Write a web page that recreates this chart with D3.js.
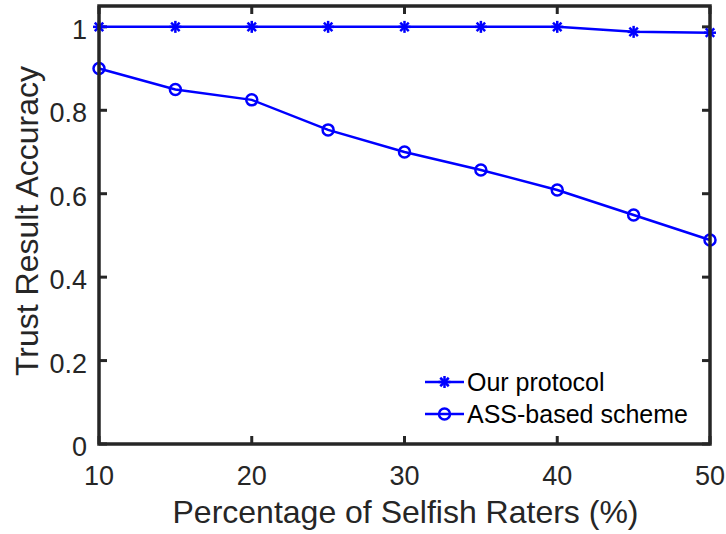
<!DOCTYPE html>
<html lang="en">
<head>
<meta charset="UTF-8">
<title>Trust Result Accuracy</title>
<script src="https://d3js.org/d3.v7.min.js"></script>
<style>
  body { margin: 0; background: #fff; }
  text { font-family: Arial, "Liberation Sans", Helvetica, sans-serif; }
</style>
</head>
<body>
<script>
// data
const raters = [10, 15, 20, 25, 30, 35, 40, 45, 50];
const ourProtocol = [1, 1, 1, 1, 1, 1, 1, 0.988, 0.986];
const assScheme = [0.9, 0.85, 0.825, 0.753, 0.7, 0.657, 0.609, 0.549, 0.489];
const xTicks = [10, 20, 30, 40, 50];
const yTicks = [0, 0.2, 0.4, 0.6, 0.8, 1];
const seriesNames = ["Our protocol", "ASS-based scheme"];

const W = 726, H = 534;
const margin = {left: 99, right: 16, top: 6, bottom: 90};

const svg = d3.select("body").append("svg").attr("width", W).attr("height", H);

const x = d3.scaleLinear().domain([10, 50]).range([margin.left, W - margin.right]);
const y = d3.scaleLinear().domain([0, 1.05]).range([H - margin.bottom, margin.top]);

const axisColor = "#262626";
const blue = "#0000ff";

// ticks (inward, mirrored on all sides)
const tk = 8;
const g = svg.append("g");
xTicks.forEach(t => {
  g.append("line").attr("x1", x(t)).attr("x2", x(t)).attr("y1", y(0)).attr("y2", y(0) - tk)
    .attr("stroke", axisColor).attr("stroke-width", 3);
  g.append("line").attr("x1", x(t)).attr("x2", x(t)).attr("y1", y(1.05)).attr("y2", y(1.05) + tk)
    .attr("stroke", axisColor).attr("stroke-width", 3);
  g.append("text").attr("x", x(t)).attr("y", y(0) + 41).attr("text-anchor", "middle")
    .attr("font-size", 27).attr("fill", axisColor).text(t);
});
yTicks.forEach(t => {
  g.append("line").attr("x1", x(10)).attr("x2", x(10) + tk).attr("y1", y(t)).attr("y2", y(t))
    .attr("stroke", axisColor).attr("stroke-width", 3);
  g.append("line").attr("x1", x(50)).attr("x2", x(50) - tk).attr("y1", y(t)).attr("y2", y(t))
    .attr("stroke", axisColor).attr("stroke-width", 3);
  g.append("text").attr("x", x(10) - 12).attr("y", y(t) + 12).attr("text-anchor", "end")
    .attr("font-size", 27).attr("fill", axisColor).text(d3.format("~g")(t));
});

// lines
const line = d3.line().x((d, i) => x(raters[i])).y(d => y(d));
svg.append("path").datum(ourProtocol).attr("d", line).attr("fill", "none")
  .attr("stroke", blue).attr("stroke-width", 2.5);
svg.append("path").datum(assScheme).attr("d", line).attr("fill", "none")
  .attr("stroke", blue).attr("stroke-width", 2.5);

function star(sel, cx, cy, r) {
  const gg = sel.append("g").attr("transform", `translate(${cx},${cy})`);
  [0, 45, 90, 135].forEach(a => {
    const rad = a * Math.PI / 180;
    gg.append("line").attr("x1", -r * Math.cos(rad)).attr("y1", -r * Math.sin(rad))
      .attr("x2", r * Math.cos(rad)).attr("y2", r * Math.sin(rad))
      .attr("stroke", blue).attr("stroke-width", 2.5);
  });
}

ourProtocol.forEach((v, i) => star(svg, x(raters[i]), y(v), 6));
svg.selectAll("circle.m").data(assScheme).enter().append("circle")
  .attr("cx", (d, i) => x(raters[i])).attr("cy", d => y(d)).attr("r", 5.5)
  .attr("fill", "none").attr("stroke", blue).attr("stroke-width", 2.5);

// box
svg.append("rect").attr("x", x(10)).attr("y", y(1.05)).attr("width", x(50) - x(10))
  .attr("height", y(0) - y(1.05)).attr("fill", "none").attr("stroke", axisColor).attr("stroke-width", 3.5);

// legend
const lg = svg.append("g");
seriesNames.forEach((name, i) => {
  const ly = 382 + i * 32;
  lg.append("line").attr("x1", 425).attr("x2", 464).attr("y1", ly).attr("y2", ly)
    .attr("stroke", blue).attr("stroke-width", 2.5);
  if (i === 0) star(lg, 444.5, ly, 6);
  else lg.append("circle").attr("cx", 444.5).attr("cy", ly).attr("r", 5.5)
    .attr("fill", "none").attr("stroke", blue).attr("stroke-width", 2.5);
  lg.append("text").attr("x", 467).attr("y", ly + 9).attr("font-size", 25)
    .attr("fill", "#000").text(name);
});

// axis labels
svg.append("text").attr("x", (x(10) + x(50)) / 2 + 1).attr("y", 523).attr("text-anchor", "middle")
  .attr("font-size", 32).attr("fill", axisColor).text("Percentage of Selfish Raters (%)");
svg.append("text").attr("transform", `translate(38,${(y(0) + y(1.05)) / 2 - 4}) rotate(-90)`)
  .attr("text-anchor", "middle").attr("font-size", 32).attr("fill", axisColor)
  .text("Trust Result Accuracy");
</script>
</body>
</html>
